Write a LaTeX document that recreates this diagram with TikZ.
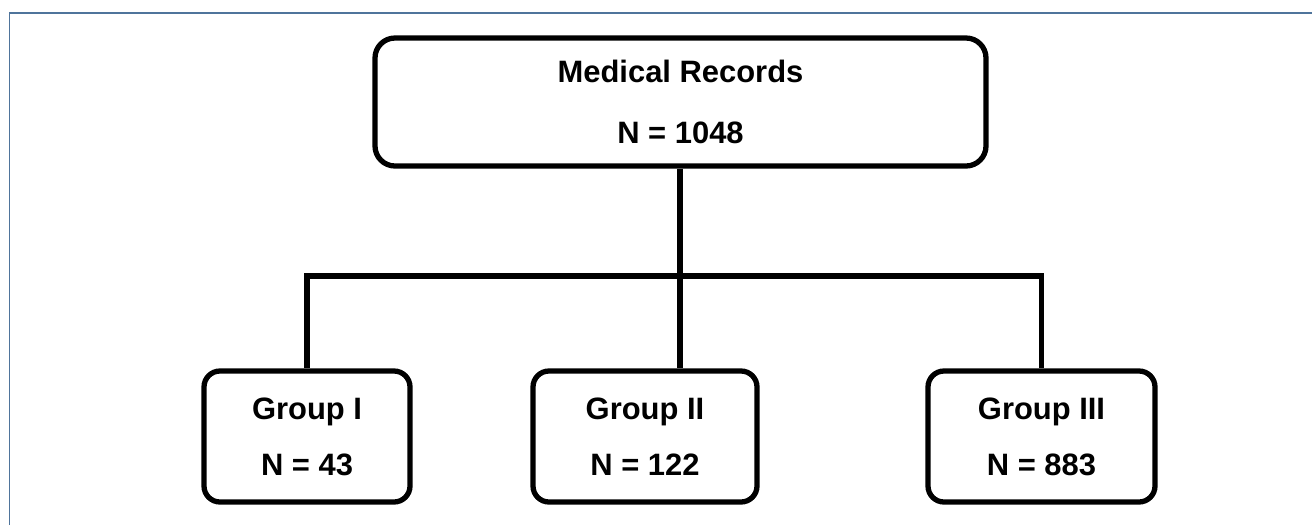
\documentclass[tikz,border=0pt]{standalone}
\usepackage{fontspec}
\setmainfont{Liberation Sans}
\usepackage{tikz}
\usetikzlibrary{calc,positioning}
\definecolor{frameblue}{RGB}{79,116,155}
\tikzset{
    every node/.style={
        font=\fontsize{17.6}{20}\selectfont\bfseries
    },
    block/.style={
        shape=rectangle,
        draw,
        line width=3pt,
        align=center,
        inner sep=0pt
    }
}

\begin{document}
\begin{tikzpicture}[
		link/.style={line width=3pt},
		group/.style={block, rounded corners=0.32cm, minimum height=2.62cm}
		]
		\useasboundingbox (0,0) rectangle (26.24,-10.5);
		\draw [frameblue, line width=1.1pt] (0.19,-10.5) -- (0.19,-0.26) -- (26.24,-0.26);
		
		\node (rec) at (13.61, -2.04) [block, rounded corners=0.4cm, minimum width=12.22cm, minimum height=2.56cm] {Medical Records\\[15pt]N = 1048};
		
		\node (g1) at (6.14, -8.73) [group, minimum width=4.12cm] {Group I\\[12pt]N = 43};
		\node (g2) at (12.9, -8.73) [group, minimum width=4.48cm] {Group II\\[12pt]N = 122};
		\node (g3) at (20.83, -8.73) [group, minimum width=4.54cm] {Group III\\[12pt]N = 883};
		
		\coordinate (bus) at (13.6, -5.52);
		
		\draw [link] (rec.south -| bus) -- (bus);
		\draw [link] (bus) -| (g1.north);
		\draw [link] (bus) -| (g3.north);
		\draw [link] (bus) -- (bus |- g2.north);
	\end{tikzpicture}
\end{document}
